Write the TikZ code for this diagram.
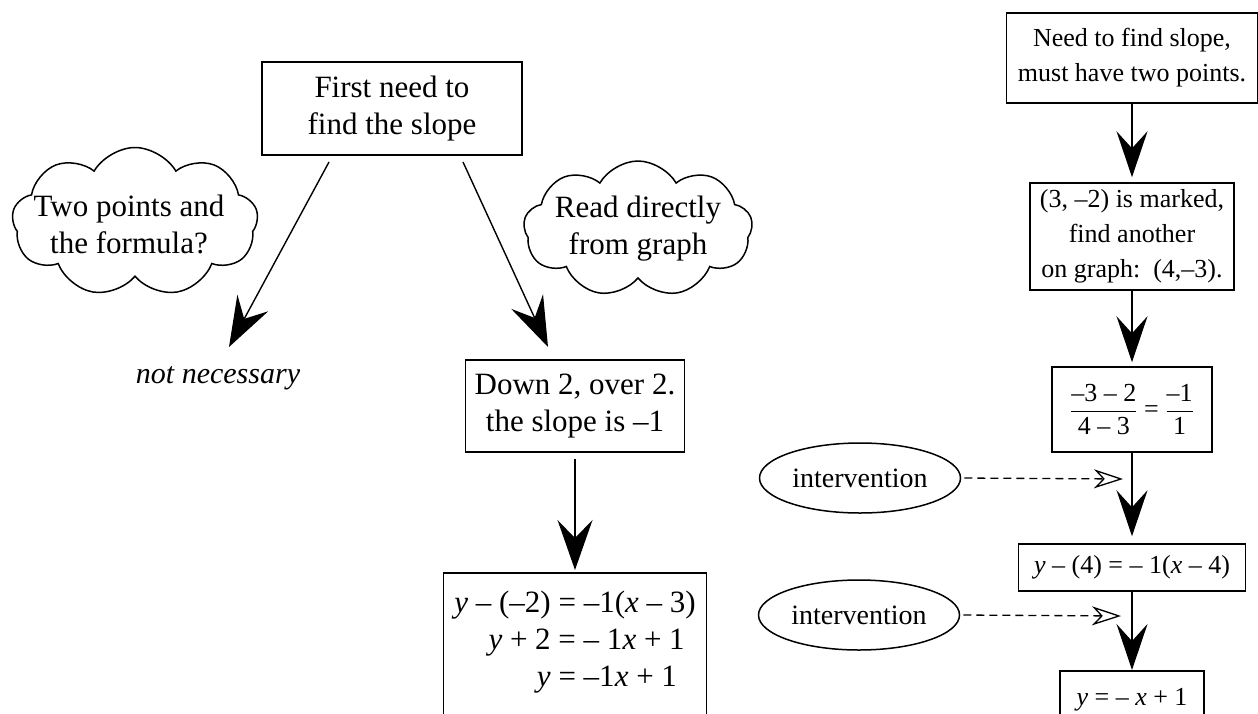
\documentclass[tikz,border=0pt]{standalone}
\usepackage{fontspec}
\setmainfont{Liberation Serif}
\usetikzlibrary{arrows.meta,shapes.geometric,shapes.symbols}
\begin{document}
\begin{tikzpicture}[x=1pt,y=-1pt,
  lf/.style={font=\fontsize{31}{37}\selectfont},
  rf/.style={font=\fontsize{26}{35}\selectfont},
  box/.style={draw, line width=1.5pt, inner sep=0pt, align=center},
  bigarrow/.style={line width=1.4pt, -{Stealth[length=50pt,width=35pt,inset=18pt]}},
  rarrow/.style={line width=1.4pt, -{Stealth[length=46pt,width=31pt,inset=17pt]}},
  dasharrow/.style={line width=1.3pt, dash pattern=on 8pt off 5pt, -{Stealth[open,length=29pt,width=19pt,inset=9pt,line width=1.3pt]}},
  thought/.style={cloud, draw, line width=1.5pt, cloud puffs=9, cloud puff arc=120, cloud ignores aspect, inner sep=0pt},
  oval/.style={ellipse, draw, line width=1.5pt, minimum width=201pt, minimum height=70pt, inner sep=0pt, font=\fontsize{28}{32}\selectfont}
]
\useasboundingbox (0,0) rectangle (1258,713);

% left part
\node[box, lf, minimum width=260pt, minimum height=93pt] (b1) at (392,108.5) {First need to\\find the slope};
\node[thought, minimum width=246pt, minimum height=149pt,
  label={[lf, align=center, yshift=-2pt, xshift=-6pt]center:Two points and\\the formula?}] (c1) at (135,222) {};
\node[thought, minimum width=229pt, minimum height=136pt,
  label={[lf, align=center]center:Read directly\\from graph}] (c2) at (638,229) {};
\node[font=\fontsize{30}{37}\selectfont\itshape] (nn) at (218,378) {not necessary};
\coordinate (a1s) at (329,162);
\coordinate (a1e) at (229,347);
\coordinate (a2s) at (463,162);
\coordinate (a2e) at (548,347);
\draw[bigarrow] (a1s) -- (a1e);
\draw[bigarrow] (a2s) -- (a2e);

\node[box, lf, minimum width=219pt, minimum height=92pt] (d) at (575,406) {Down 2, over 2.\\the slope is –1};
\node[box, lf, anchor=north, minimum width=263pt, text height=40pt, text depth=160pt] (eq) at (575,572) {%
\begin{tabular}[t]{@{}r@{\ =\ }l@{}}
\textit{y} – (–2) & –1(\textit{x} – 3)\\
\textit{y} + 2 & – 1\textit{x} + 1\\
\textit{y} & –1\textit{x} + 1
\end{tabular}};
\draw[bigarrow, shorten <=6pt, shorten >=2pt] (d.south) -- (eq.north);

% right column
\node[box, rf, minimum width=251pt, minimum height=90pt] (r1) at (1132,58) {Need to find slope,\\must have two points.};
\node[box, rf, minimum width=204pt, minimum height=107pt] (r2) at (1132,236.5) {(3, –2) is marked,\\find another\\on graph:\ \ (4,–3).};
\node[box, rf, minimum width=160pt, minimum height=85pt] (r3) at (1132,409.5) {$\displaystyle\frac{\mbox{–3 – 2}}{\mbox{4 – 3}}\mbox{ = }\frac{\mbox{–1}}{\mbox{1}}$};
\node[box, rf, minimum width=227pt, minimum height=47pt] (r4) at (1132,567.5) {\textit{y} – (4) = – 1(\textit{x} – 4)};
\node[box, rf, anchor=north, minimum width=144pt, text height=35pt, text depth=60pt] (r5) at (1132,670) {\textit{y} = – \textit{x} + 1};

\draw[rarrow, shorten >=5pt] (r1.south) -- (r2.north);
\draw[rarrow, shorten >=4pt] (r2.south) -- (r3.north);
\draw[rarrow, shorten >=7pt] (r3.south) -- (r4.north);
\draw[rarrow] (r4.south) -- (r5.north);

\node[oval] (e1) at (860,478) {intervention};
\node[oval] (e2) at (859,615) {intervention};
\coordinate (t1) at (1123,479);
\coordinate (t2) at (1121,616);
\draw[dasharrow, shorten <=3pt] (e1.east) -- (t1);
\draw[dasharrow, shorten <=3pt] (e2.east) -- (t2);
\end{tikzpicture}
\end{document}
